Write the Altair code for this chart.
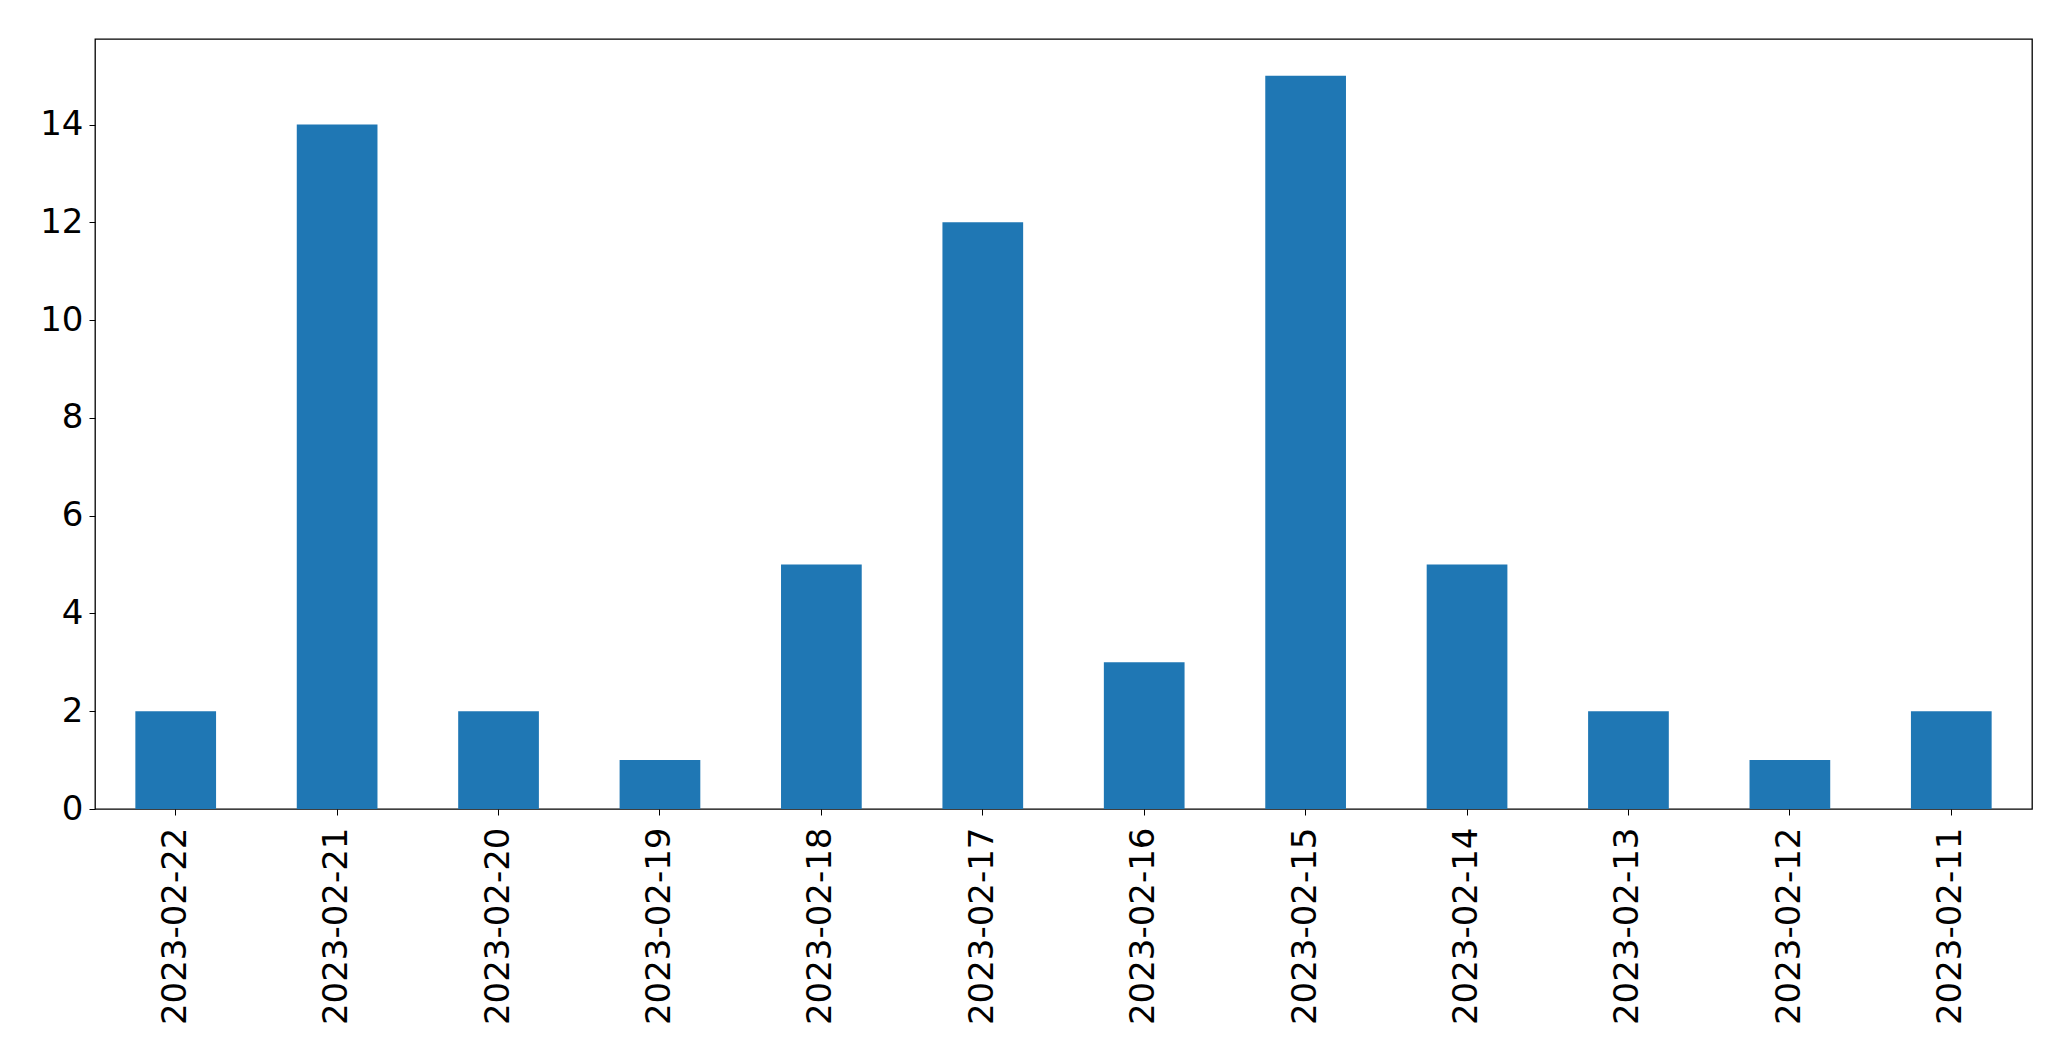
import altair as alt
import pandas as pd

dates = ["2023-02-22", "2023-02-21", "2023-02-20", "2023-02-19", "2023-02-18", "2023-02-17",
         "2023-02-16", "2023-02-15", "2023-02-14", "2023-02-13", "2023-02-12", "2023-02-11"]
counts = [2, 14, 2, 1, 5, 12, 3, 15, 5, 2, 1, 2]
y_ticks = [0, 2, 4, 6, 8, 10, 12, 14]

df = pd.DataFrame({"date": dates, "count": counts})

chart = alt.Chart(df).mark_bar(color="#1f77b4").encode(
    x=alt.X("date:N", sort=dates, title=None,
            scale=alt.Scale(paddingInner=0.5, paddingOuter=0.25),
            axis=alt.Axis(labelAngle=270, labelFontSize=34, labelFont="DejaVu Sans",
                          labelColor="black", tickColor="black", tickSize=6, tickWidth=1,
                          labelPadding=12, labelLimit=0, labelOverlap=False,
                          domain=False, grid=False)),
    y=alt.Y("count:Q", title=None,
            scale=alt.Scale(domain=[0, 15.75], nice=False, zero=True),
            axis=alt.Axis(values=y_ticks, labelFontSize=34, labelFont="DejaVu Sans",
                          labelColor="black", tickColor="black", tickSize=6, tickWidth=1,
                          labelPadding=6, domain=False, grid=False)),
).properties(
    width=1937, height=770,
    autosize=alt.AutoSizeParams(type="none"),
    padding={"left": 87, "top": 31, "right": 20, "bottom": 230},
).configure_view(stroke="black", strokeWidth=1.3)

chart.save("out.html", embed_options={"renderer": "svg", "actions": False})
